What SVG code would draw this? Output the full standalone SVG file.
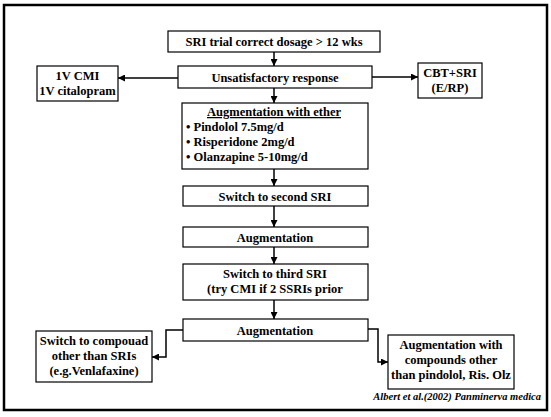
<svg xmlns="http://www.w3.org/2000/svg" width="551" height="417" viewBox="0 0 551 417">
<defs>
<marker id="ah" viewBox="0 0 10 10" refX="10" refY="5" markerWidth="7" markerHeight="7" markerUnits="userSpaceOnUse" orient="auto">
<path d="M0,0 L10,5 L0,10 z" fill="#000"/>
</marker>
<style>
.box{fill:#fff;stroke:#000;stroke-width:1.2}
.t{font-family:"Liberation Serif","Times New Roman",serif;font-weight:bold;font-size:12.5px;fill:#000;text-anchor:middle}
.l{text-anchor:start}
.c{fill:none;stroke:#000;stroke-width:1.5;marker-end:url(#ah)}
.cite{font-family:"Liberation Serif","Times New Roman",serif;font-weight:bold;font-style:italic;font-size:10.5px;fill:#000;text-anchor:end}
</style>
</defs>
<rect width="551" height="417" fill="#fff"/>
<rect x="4" y="5" width="543" height="405" fill="none" stroke="#000" stroke-width="2.5"/>
<g id="connectors">
<line class="c" x1="274" y1="52" x2="274" y2="66"/>
<line class="c" x1="178" y1="78" x2="118" y2="78"/>
<line class="c" x1="372" y1="77" x2="418" y2="77"/>
<line class="c" x1="274" y1="88" x2="274" y2="103"/>
<line class="c" x1="274" y1="169" x2="274" y2="186"/>
<line class="c" x1="274" y1="206" x2="274" y2="227"/>
<line class="c" x1="274" y1="247" x2="274" y2="264"/>
<line class="c" x1="274" y1="300" x2="274" y2="319"/>
<polyline class="c" points="183,330 166,330 166,357 152,357"/>
<polyline class="c" points="368,329 378,329 378,362 388,362"/>
</g>
<g id="n1"><rect class="box" x="168" y="31" width="212" height="21"/><text class="t" x="274" y="46">SRI trial correct dosage &gt; 12 wks</text></g>
<g id="n2"><rect class="box" x="178" y="66" width="194" height="22"/><text class="t" x="275" y="81.5">Unsatisfactory response</text></g>
<g id="n3"><rect class="box" x="37" y="66" width="81" height="35"/><text class="t" x="77.5" y="80">1V CMI</text><text class="t" x="77.5" y="95">1V citalopram</text></g>
<g id="n4"><rect class="box" x="418" y="63" width="64" height="35"/><text class="t" x="450" y="77">CBT+SRI</text><text class="t" x="450" y="92">(E/RP)</text></g>
<g id="n5"><rect class="box" x="182" y="103" width="186" height="66"/>
<text class="t" x="274" y="116" text-decoration="underline">Augmentation with ether</text>
<text class="t l" x="186" y="131">• Pindolol 7.5mg/d</text>
<text class="t l" x="186" y="146">• Risperidone 2mg/d</text>
<text class="t l" x="186" y="161">• Olanzapine 5-10mg/d</text></g>
<g id="n6"><rect class="box" x="183" y="186" width="185" height="20"/><text class="t" x="275" y="200.5">Switch to second SRI</text></g>
<g id="n7"><rect class="box" x="183" y="227" width="185" height="20"/><text class="t" x="275" y="241.5">Augmentation</text></g>
<g id="n8"><rect class="box" x="183" y="264" width="185" height="36"/><text class="t" x="275" y="278">Switch to third SRI</text><text class="t" x="275" y="293">(try CMI if 2 SSRIs prior</text></g>
<g id="n9"><rect class="box" x="183" y="319" width="185" height="22"/><text class="t" x="275" y="334.5">Augmentation</text></g>
<g id="n10"><rect class="box" x="36" y="331" width="116" height="51"/><text class="t" x="94" y="345">Switch to compouad</text><text class="t" x="94" y="360">other than SRIs</text><text class="t" x="94" y="375">(e.g.Venlafaxine)</text></g>
<g id="n11"><rect class="box" x="388" y="335" width="126" height="54"/><text class="t" x="451" y="349">Augmentation with</text><text class="t" x="451" y="364">compounds other</text><text class="t" x="451" y="379">than pindolol, Ris. Olz</text></g>
<text class="cite" x="541" y="400">Albert et al.(2002) Panminerva medica</text>
</svg>
